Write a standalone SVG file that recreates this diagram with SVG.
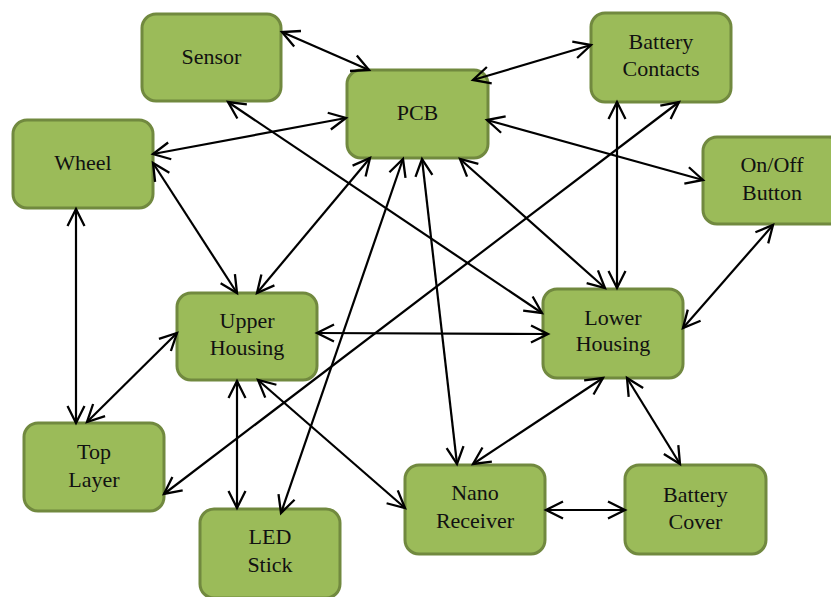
<svg xmlns="http://www.w3.org/2000/svg" width="831" height="597" viewBox="0 0 831 597">
<style>
.box{fill:#9BBB59;stroke:#71893F;stroke-width:3}
.lbl{font-family:"Liberation Serif","Times New Roman",serif;font-size:22px;fill:#111;text-anchor:middle}
.c{stroke:#000;stroke-width:2.2;fill:none;marker-start:url(#ah);marker-end:url(#ah)}
</style>
<defs>
<marker id="ah" markerUnits="userSpaceOnUse" viewBox="-20 -12 24 24" markerWidth="24" markerHeight="24" refX="0" refY="0" orient="auto-start-reverse">
<path d="M-17,-8.5 L0,0 L-17,8.5" fill="none" stroke="#000" stroke-width="2.3"/>
</marker>
</defs>
<rect width="831" height="597" fill="#fff"/>
<g id="sensor"><rect class="box" x="142" y="14" width="139" height="87" rx="14"/><text class="lbl" x="211.5" y="63.5">Sensor</text></g>
<g id="pcb"><rect class="box" x="347" y="70" width="141" height="88" rx="14"/><text class="lbl" x="417.5" y="120">PCB</text></g>
<g id="battery-contacts"><rect class="box" x="591" y="13" width="140" height="89" rx="14"/><text class="lbl" x="661" y="49">Battery</text><text class="lbl" x="661" y="76">Contacts</text></g>
<g id="wheel"><rect class="box" x="13" y="120" width="140" height="88" rx="14"/><text class="lbl" x="83" y="170">Wheel</text></g>
<g id="onoff-button"><rect class="box" x="703" y="137" width="140" height="87" rx="14"/><text class="lbl" x="772" y="172">On/Off</text><text class="lbl" x="772" y="200">Button</text></g>
<g id="upper-housing"><rect class="box" x="177" y="293" width="140" height="87" rx="14"/><text class="lbl" x="247" y="328">Upper</text><text class="lbl" x="247" y="355">Housing</text></g>
<g id="lower-housing"><rect class="box" x="543" y="289" width="140" height="89" rx="14"/><text class="lbl" x="613" y="325">Lower</text><text class="lbl" x="613" y="351">Housing</text></g>
<g id="top-layer"><rect class="box" x="24" y="423" width="140" height="88" rx="14"/><text class="lbl" x="94" y="459">Top</text><text class="lbl" x="94" y="487">Layer</text></g>
<g id="led-stick"><rect class="box" x="200" y="509" width="140" height="89" rx="14"/><text class="lbl" x="270" y="544">LED</text><text class="lbl" x="270" y="572">Stick</text></g>
<g id="nano-receiver"><rect class="box" x="405" y="465" width="140" height="89" rx="14"/><text class="lbl" x="475" y="500">Nano</text><text class="lbl" x="475" y="528">Receiver</text></g>
<g id="battery-cover"><rect class="box" x="625" y="465" width="141" height="89" rx="14"/><text class="lbl" x="695.5" y="502">Battery</text><text class="lbl" x="695.5" y="529">Cover</text></g>
<g id="connectors">
<line class="c" x1="282" y1="32" x2="369" y2="70"/>
<line class="c" x1="153" y1="154" x2="346" y2="118"/>
<line class="c" x1="228" y1="102" x2="542" y2="313"/>
<line class="c" x1="473" y1="80" x2="591" y2="45"/>
<line class="c" x1="487" y1="120" x2="703" y2="180"/>
<line class="c" x1="617" y1="102" x2="617" y2="288"/>
<line class="c" x1="679" y1="102" x2="164" y2="494"/>
<line class="c" x1="460" y1="159" x2="605" y2="288"/>
<line class="c" x1="773" y1="225" x2="683" y2="328"/>
<line class="c" x1="153" y1="163" x2="237" y2="293"/>
<line class="c" x1="370" y1="158" x2="257" y2="293"/>
<line class="c" x1="76" y1="209" x2="76" y2="423"/>
<line class="c" x1="177" y1="333" x2="87" y2="422"/>
<line class="c" x1="317" y1="333" x2="548" y2="334"/>
<line class="c" x1="237" y1="381" x2="237" y2="508"/>
<line class="c" x1="403" y1="159" x2="281" y2="513"/>
<line class="c" x1="422" y1="159" x2="457" y2="464"/>
<line class="c" x1="258" y1="380" x2="405" y2="508"/>
<line class="c" x1="603" y1="378" x2="473" y2="464"/>
<line class="c" x1="627" y1="378" x2="680" y2="464"/>
<line class="c" x1="546" y1="510" x2="625" y2="510"/>
</g>
</svg>
